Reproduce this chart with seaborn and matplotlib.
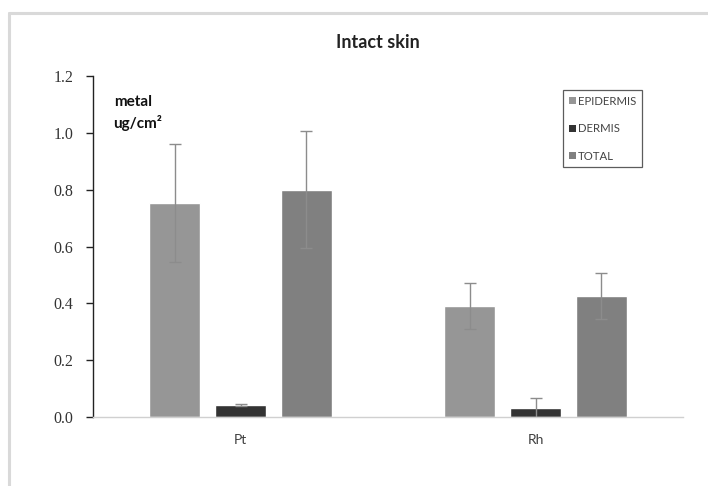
import matplotlib
matplotlib.use("Agg")
import matplotlib.pyplot as plt
import seaborn as sns
import pandas as pd
from matplotlib.lines import Line2D
from matplotlib.patches import Patch

metals = ["Pt", "Rh"]
layers = ["EPIDERMIS", "DERMIS", "TOTAL"]
epidermis = [0.753, 0.390]
dermis = [0.042, 0.030]
total = [0.800, 0.425]
epidermis_err = [0.208, 0.080]
dermis_err = [0.004, 0.038]
total_err = [0.205, 0.080]
yticks = [0.0, 0.2, 0.4, 0.6, 0.8, 1.0, 1.2]

colors = {"EPIDERMIS": "#969696", "DERMIS": "#333333", "TOTAL": "#808080"}

rows = []
for layer, vals, errs in [("EPIDERMIS", epidermis, epidermis_err),
                          ("DERMIS", dermis, dermis_err),
                          ("TOTAL", total, total_err)]:
    for m, v, e in zip(metals, vals, errs):
        rows.append({"metal": m, "layer": layer, "value": v, "err": e})
df = pd.DataFrame(rows)

sns.set_style("white")
plt.rcParams["font.family"] = ["Lato", "DejaVu Sans"]

fig = plt.figure(figsize=(7.08, 4.86), dpi=100)
ax = fig.add_axes([93/708, 1-417/486, (683-93)/708, (417-76)/486])

sns.barplot(data=df, x="metal", y="value", hue="layer", order=metals,
            hue_order=layers, palette=colors, width=0.67, gap=0.23,
            errorbar=None, ax=ax, legend=False, saturation=1)

# error bars from bar patches
for container, layer in zip(ax.containers, layers):
    sub = df[df["layer"] == layer].set_index("metal").loc[metals]
    xs = [p.get_x() + p.get_width()/2 for p in container.patches]
    ax.errorbar(xs, sub["value"].values, yerr=sub["err"].values, fmt="none",
                ecolor="#8c8c8c", elinewidth=1.0, capsize=4, capthick=1.0)

ax.set_ylim(0, 1.2)
ax.set_yticks(yticks)
ax.set_yticklabels([f"{t:.1f}" for t in yticks], fontfamily="Liberation Serif",
                   fontsize=11.5, color="#333333")
ax.set_xlim(-0.5, 1.5)
ax.set_xlabel("")
ax.set_ylabel("")
ax.tick_params(axis="y", length=5, width=1, color="#222222", left=True, direction="out", pad=9)
ax.tick_params(axis="x", length=0, pad=12, labelsize=10, labelcolor="#404040")
for s in ["top", "right"]:
    ax.spines[s].set_visible(False)
ax.spines["left"].set_color("#222222")
ax.spines["left"].set_linewidth(1.0)
ax.spines["bottom"].set_color("#d0d0d0")
ax.spines["bottom"].set_linewidth(1.0)

ax.text(40/590, 1-(95-76)/341, "metal", transform=ax.transAxes, fontsize=11,
        fontweight="bold", ha="center", va="top", color="#111111")
ax.text(45/590, 1-(115-76)/341, "ug/cm²", transform=ax.transAxes, fontsize=11,
        fontweight="bold", ha="center", va="top", color="#111111")

fig.text(378/708, 1-42/486, "Intact skin", ha="center", va="center",
         fontsize=13, fontweight="bold", color="#222222")

handles = [Patch(facecolor=colors[l], edgecolor="none") for l in layers]
leg = ax.legend(handles, layers, loc="upper left",
                bbox_to_anchor=((563-93)/590, 1-(90-76)/341),
                frameon=True, fancybox=False, fontsize=8.2, handlelength=0.6,
                handleheight=0.6, handletextpad=0.2, labelspacing=1.45,
                borderpad=0.5, borderaxespad=0)
leg.get_frame().set_edgecolor("#333333")
leg.get_frame().set_linewidth(0.9)
for t in leg.get_texts():
    t.set_color("#444444")

# light gray frame around chart
fig.add_artist(Line2D([9/708, 1.0], [1-13/486, 1-13/486], color="#d9d9d9", lw=2.2,
                      transform=fig.transFigure))
fig.add_artist(Line2D([9/708, 9/708], [0.0, 1-13/486], color="#d9d9d9", lw=2.2,
                      transform=fig.transFigure))

fig.savefig("out.png", dpi=100)
